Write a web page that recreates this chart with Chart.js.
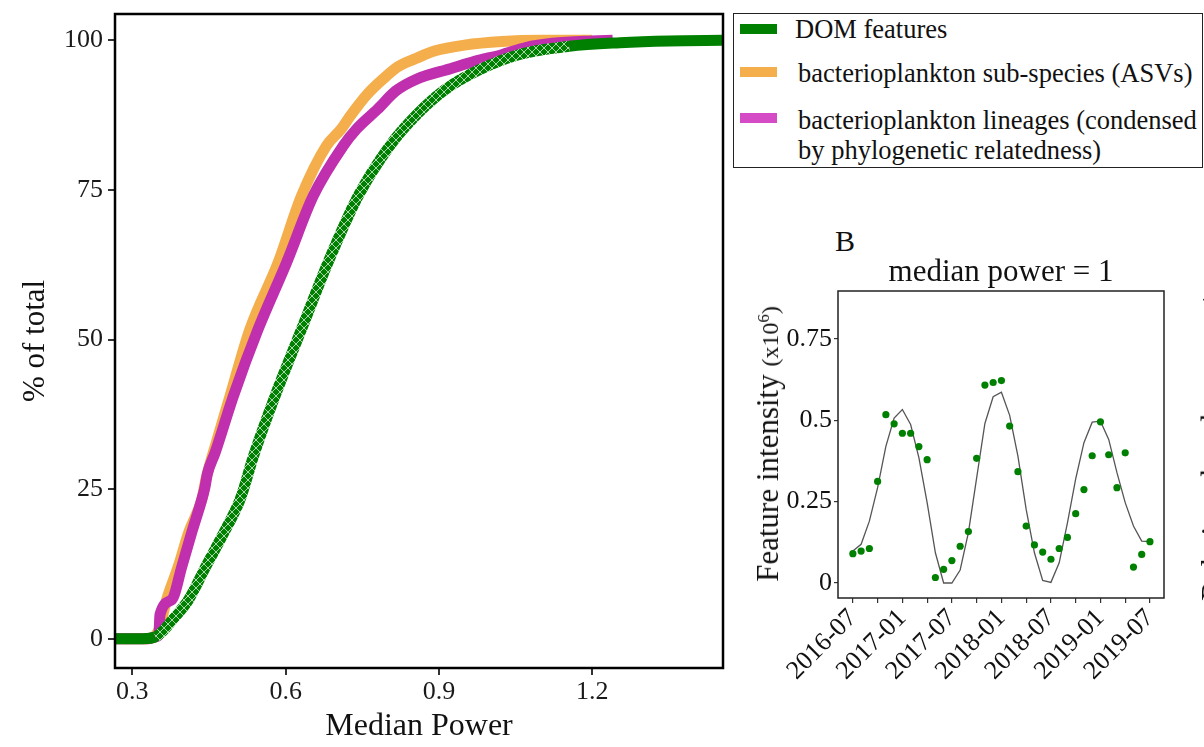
<!DOCTYPE html>
<html><head><meta charset="utf-8">
<script src="https://cdn.jsdelivr.net/npm/chart.js@4.4.1/dist/chart.umd.min.js"></script>
<style>
html,body{margin:0;padding:0;background:#fff;}
body{width:1204px;height:747px;position:relative;overflow:hidden;font-family:"Liberation Serif","Times New Roman",serif;color:#111;}
.abs{position:absolute;white-space:nowrap;}
#c1{position:absolute;left:0;top:0;}
#c2{position:absolute;left:740px;top:280px;}
#legend{position:absolute;left:733px;top:13px;width:468px;height:153px;border:1.5px solid #222;}
.sw{position:absolute;left:740px;width:37px;height:10px;}
.lt{position:absolute;font-size:26.5px;line-height:26px;white-space:nowrap;}
.rot{position:absolute;white-space:nowrap;transform:translate(-50%,-50%) rotate(-90deg);}
sup{font-size:0.7em;vertical-align:0.55em;line-height:0;}
</style>
</head><body>
<canvas id="c1" width="730" height="747"></canvas>
<canvas id="c2" width="464" height="467"></canvas>

<div id="legend"></div>
<div class="sw" style="top:24px;background:#008000"></div>
<div class="lt" style="left:795px;top:16px">DOM features</div>
<div class="sw" style="top:67px;background:#f5ae4c"></div>
<div class="lt" style="left:798px;top:60px">bacterioplankton sub-species (ASVs)</div>
<div class="sw" style="top:113px;background:#d44bc5"></div>
<div class="lt" style="left:798px;top:104.5px;line-height:30px">bacterioplankton lineages (condensed<br>by phylogenetic relatedness)</div>

<div class="abs" style="left:835px;top:226px;font-size:30px;line-height:30px">B</div>
<div class="abs" style="left:1001px;top:255px;font-size:31px;line-height:31px;transform:translateX(-50%)">median power = 1</div>
<div class="rot" style="left:768px;top:444px;font-size:31px">Feature intensity <span style="font-size:24px">(x10<sup>6</sup>)</span></div>
<div class="rot" style="left:1213px;top:445px;font-size:31px">Relative abundance <span style="font-size:24px">(x10<sup>4</sup>)</span></div>

<script>
// ---------- Panel A: cumulative distributions (% of total vs Median Power) ----------
const xTickValues = [0.3, 0.6, 0.9, 1.2];
const yTickValues = [0, 25, 50, 75, 100];

const domX = [0.266, 0.32, 0.345, 0.36, 0.38, 0.41, 0.444, 0.479, 0.511, 0.537, 0.579, 0.631, 0.683, 0.742, 0.804, 0.858, 0.911, 0.977, 1.056, 1.155, 1.254, 1.35, 1.456];
const domY = [0, 0, 0.3, 1.3, 3.3, 6.5, 12.1, 17.7, 23.3, 30.5, 40.5, 51.7, 62.9, 74.0, 82.4, 87.7, 91.7, 95.0, 97.6, 99.0, 99.6, 99.9, 100];

const asvX = [0.266, 0.33, 0.345, 0.352, 0.367, 0.39, 0.41, 0.436, 0.445, 0.465, 0.491, 0.530, 0.5855, 0.631, 0.680, 0.709, 0.726, 0.76, 0.7915, 0.82, 0.856, 0.891, 0.95, 1.023, 1.1, 1.2];
const asvY = [0, 0, 0.5, 1.5, 6.5, 12.1, 17.7, 23.3, 27.0, 33.0, 40.5, 51.7, 62.9, 74.0, 82.4, 85.2, 87.3, 91.0, 93.6, 95.6, 97.0, 98.2, 99.2, 99.8, 100, 100];

const linX = [0.266, 0.33, 0.345, 0.352, 0.354, 0.377, 0.397, 0.416, 0.436, 0.442, 0.447, 0.462, 0.4975, 0.546, 0.602, 0.654, 0.713, 0.739, 0.78, 0.815, 0.856, 0.924, 0.97, 1.023, 1.07, 1.122, 1.2, 1.24];
const linY = [0, 0, 0.3, 0.8, 4.0, 6.5, 12.1, 17.7, 23.3, 25.3, 27.6, 31.1, 40.5, 51.7, 62.9, 74.0, 82.4, 85.2, 88.5, 91.5, 93.5, 95.3, 96.5, 97.6, 98.8, 99.5, 99.9, 100];

const seriesNames = ['DOM features', 'bacterioplankton sub-species (ASVs)', 'bacterioplankton lineages (condensed by phylogenetic relatedness)'];

// ---------- Panel B: example feature time series ----------
const months = ['2016-07','2016-08','2016-09','2016-10','2016-11','2016-12','2017-01','2017-02','2017-03','2017-04','2017-05','2017-06',
  '2017-07','2017-08','2017-09','2017-10','2017-11','2017-12','2018-01','2018-02','2018-03','2018-04','2018-05','2018-06',
  '2018-07','2018-08','2018-09','2018-10','2018-11','2018-12','2019-01','2019-02','2019-03','2019-04','2019-05','2019-06','2019-07'];
const intensityObs = [0.090, 0.098, 0.106, 0.312, 0.517, 0.489, 0.460, 0.460, 0.419, 0.379, 0.017, 0.042,
  0.069, 0.113, 0.158, 0.383, 0.608, 0.616, 0.622, 0.482, 0.342, 0.175, 0.117, 0.095,
  0.073, 0.106, 0.140, 0.213, 0.287, 0.391, 0.495, 0.394, 0.293, 0.400, 0.049, 0.088, 0.127];
const intensityFit = [0.098, 0.119, 0.190, 0.293, 0.420, 0.507, 0.533, 0.487, 0.385, 0.247, 0.093, 0.0,
  0.0, 0.040, 0.155, 0.323, 0.490, 0.572, 0.586, 0.515, 0.390, 0.226, 0.093, 0.008,
  0.002, 0.062, 0.185, 0.320, 0.431, 0.494, 0.497, 0.441, 0.339, 0.247, 0.175, 0.129, 0.127];
const dateTickLabels = ['2016-07','2017-01','2017-07','2018-01','2018-07','2019-01','2019-07'];
const intensityTicks = [0, 0.25, 0.5, 0.75];
const intensityTickLabels = ['0', '0.25', '0.5', '0.75'];

// ---------- helpers ----------
const FONT = '"Liberation Serif", "Times New Roman", serif';
const pts = (xs, ys) => xs.map((x, i) => ({x: x, y: ys[i]}));
const monthIndex = s => { const p = s.split('-'); return (+p[0] - 2016) * 12 + (+p[1] - 7); };

function hatchPattern() {
  const n = 8;
  const c = document.createElement('canvas'); c.width = n; c.height = n;
  const g = c.getContext('2d');
  g.fillStyle = '#008000'; g.fillRect(0, 0, n, n);
  g.strokeStyle = 'rgba(255,255,255,0.85)'; g.lineWidth = 0.8;
  g.beginPath(); g.moveTo(0, 0); g.lineTo(n, n); g.moveTo(n, 0); g.lineTo(0, n); g.stroke();
  return g.createPattern(c, 'repeat');
}
const greenHatch = hatchPattern();

const frame = (w, col) => ({
  id: 'frame' + w,
  afterDraw(chart) {
    const a = chart.chartArea, ctx = chart.ctx;
    ctx.save(); ctx.strokeStyle = col; ctx.lineWidth = w;
    ctx.strokeRect(a.left, a.top, a.right - a.left, a.bottom - a.top);
    ctx.restore();
  }
});

// ---------- Chart A ----------
new Chart(document.getElementById('c1'), {
  type: 'line',
  data: {
    datasets: [
      {label: seriesNames[0], data: pts(domX, domY), borderColor: '#008000', borderWidth: 11,
        segment: {borderColor: c => ((c.p0.parsed.y < 0.5 && c.p1.parsed.y < 0.5) || c.p0.parsed.y > 98.5) ? '#008000' : greenHatch}},
      {label: seriesNames[2], data: pts(linX, linY), borderColor: '#bf2fae', borderWidth: 11},
      {label: seriesNames[1], data: pts(asvX, asvY), borderColor: '#f5ae4c', borderWidth: 11}
    ]
  },
  options: {
    responsive: false, animation: false,
    layout: {padding: {top: 14, right: 7, left: 0, bottom: 0}},
    elements: {point: {radius: 0}, line: {cubicInterpolationMode: 'monotone', borderJoinStyle: 'round', borderCapStyle: 'butt'}},
    datasets: {line: {clip: 0}},
    plugins: {legend: {display: false}, tooltip: {enabled: false}},
    scales: {
      x: {
        type: 'linear', min: 0.266, max: 1.456,
        afterBuildTicks: s => { s.ticks = xTickValues.map(v => ({value: v})); },
        afterFit: s => { s.height = 79; s.paddingLeft = 0; s.paddingRight = 0; },
        ticks: {callback: v => v.toFixed(1), font: {family: FONT, size: 26}, color: '#1a1a1a', padding: 2, maxRotation: 0},
        grid: {drawOnChartArea: false, drawTicks: true, tickLength: 7, color: '#333', lineWidth: 2},
        border: {display: false},
        title: {display: true, text: 'Median Power', font: {family: FONT, size: 32}, color: '#111', padding: {top: 0, bottom: 1}}
      },
      y: {
        type: 'linear', min: -4.9, max: 104.4,
        afterBuildTicks: s => { s.ticks = yTickValues.map(v => ({value: v})); },
        afterFit: s => { s.width = 115; s.paddingTop = 0; s.paddingBottom = 0; },
        ticks: {font: {family: FONT, size: 26}, color: '#1a1a1a', padding: 5},
        grid: {drawOnChartArea: false, drawTicks: true, tickLength: 7, color: '#333', lineWidth: 2},
        border: {display: false},
        title: {display: true, text: '% of total', font: {family: FONT, size: 31}, color: '#111', padding: {top: 17, bottom: 0}}
      }
    }
  },
  plugins: [frame(2.5, '#000')]
});

// ---------- Chart B ----------
new Chart(document.getElementById('c2'), {
  type: 'scatter',
  data: {
    datasets: [
      {label: 'observed', data: months.map((m, i) => ({x: monthIndex(m), y: intensityObs[i]})),
        showLine: false, pointRadius: 3.6, pointBackgroundColor: '#008000', pointBorderWidth: 0, borderColor: '#008000'},
      {label: 'fit', data: months.map((m, i) => ({x: monthIndex(m), y: intensityFit[i]})),
        showLine: true, pointRadius: 0, borderColor: '#555', borderWidth: 1.3, tension: 0}
    ]
  },
  options: {
    responsive: false, animation: false,
    layout: {padding: {top: 11, right: 40, left: 0, bottom: 0}},
    plugins: {legend: {display: false}, tooltip: {enabled: false}},
    scales: {
      x: {
        type: 'linear', min: -1.8, max: 37.7,
        afterBuildTicks: s => {
          const t = [];
          dateTickLabels.forEach((lab, i) => { const m = monthIndex(lab); t.push({value: m}); if (i < dateTickLabels.length - 1) t.push({value: m + 3}); });
          s.ticks = t;
        },
        afterFit: s => { s.height = 149; s.paddingLeft = 0; s.paddingRight = 0; },
        ticks: {autoSkip: false, minRotation: 45, maxRotation: 45, padding: 0,
          callback: v => { const i = dateTickLabels.findIndex(l => monthIndex(l) === v); return i >= 0 ? dateTickLabels[i] : ''; },
          font: {family: FONT, size: 26}, color: '#111'},
        grid: {drawOnChartArea: false, drawTicks: true, tickLength: 5, color: '#333', lineWidth: 1.2},
        border: {display: false}
      },
      y: {
        type: 'linear', min: -0.046, max: 0.897,
        afterBuildTicks: s => { s.ticks = intensityTicks.map(v => ({value: v})); },
        afterFit: s => { s.width = 98; s.paddingTop = 0; s.paddingBottom = 0; },
        ticks: {callback: v => intensityTickLabels[intensityTicks.indexOf(v)], font: {family: FONT, size: 26}, color: '#111', padding: 2},
        grid: {drawOnChartArea: false, drawTicks: true, tickLength: 4, color: '#333', lineWidth: 1.2},
        border: {display: false}
      }
    }
  },
  plugins: [frame(1.5, '#222')]
});
</script>
</body></html>
